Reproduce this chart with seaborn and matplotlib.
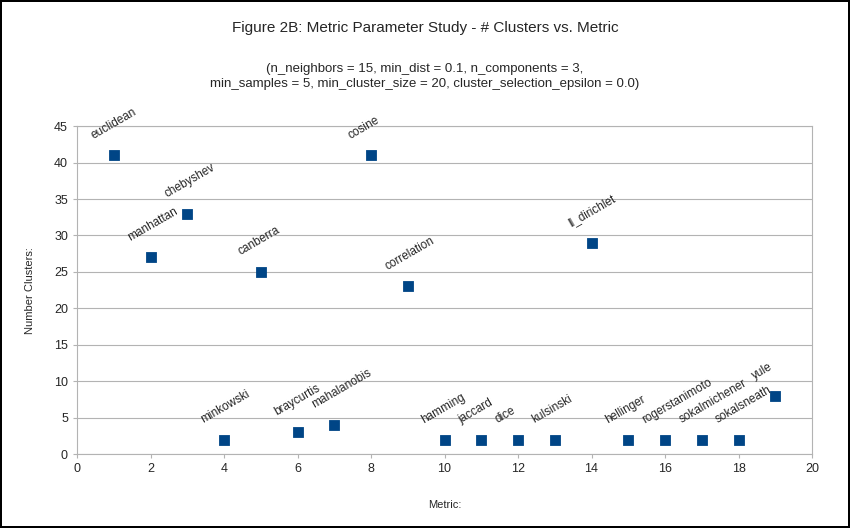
import matplotlib
matplotlib.use("Agg")
import matplotlib.pyplot as plt
import seaborn as sns

metrics = ["euclidean", "manhattan", "chebyshev", "minkowski", "canberra", "braycurtis",
           "mahalanobis", "cosine", "correlation", "hamming", "jaccard", "dice", "kulsinski",
           "ll_dirichlet", "hellinger", "rogerstanimoto", "sokalmichener", "sokalsneath", "yule"]
metric_idx = list(range(1, 20))
n_clusters = [41, 27, 33, 2, 25, 3, 4, 41, 23, 2, 2, 2, 2, 29, 2, 2, 2, 2, 8]

sns.set_style("white")
plt.rcParams['font.family'] = ['Liberation Sans', 'DejaVu Sans']

fig = plt.figure(figsize=(8.5, 5.28), dpi=100)
fig.patch.set_edgecolor("black")
fig.patch.set_linewidth(1.5)
ax = fig.add_axes([0.0906, 0.140, 0.8647, 0.621])

sns.scatterplot(x=metric_idx, y=n_clusters, marker="s", s=55, color="#004586",
                edgecolor="#004586", ax=ax, zorder=3)
for x, y, name in zip(metric_idx, n_clusters, metrics):
    ax.annotate(name, (x, y), xytext=(-18, 10), textcoords="offset points",
                rotation=30, fontsize=8.5, ha="left", va="bottom")

ax.set_xlim(0, 20)
ax.set_ylim(0, 45)
ax.set_xticks(range(0, 21, 2))
ax.set_yticks(range(0, 46, 5))
ax.grid(axis="y", color="#b3b3b3", linewidth=0.8)
for s in ax.spines.values():
    s.set_color("#b3b3b3")
ax.tick_params(labelsize=9, length=3, color="#b3b3b3", left=True, bottom=True)
ax.set_xlabel("Metric:", fontsize=8, labelpad=18)
ax.set_ylabel("Number Clusters:", fontsize=8, labelpad=14)

fig.text(0.5, 0.94, "Figure 2B: Metric Parameter Study - # Clusters vs. Metric",
         ha="center", fontsize=11)
fig.text(0.5, 0.835, "(n_neighbors = 15, min_dist = 0.1, n_components = 3,\n"
         "min_samples = 5, min_cluster_size = 20, cluster_selection_epsilon = 0.0)",
         ha="center", fontsize=9.5, linespacing=1.4)

fig.savefig("out.png", dpi=100, edgecolor=fig.get_edgecolor())
